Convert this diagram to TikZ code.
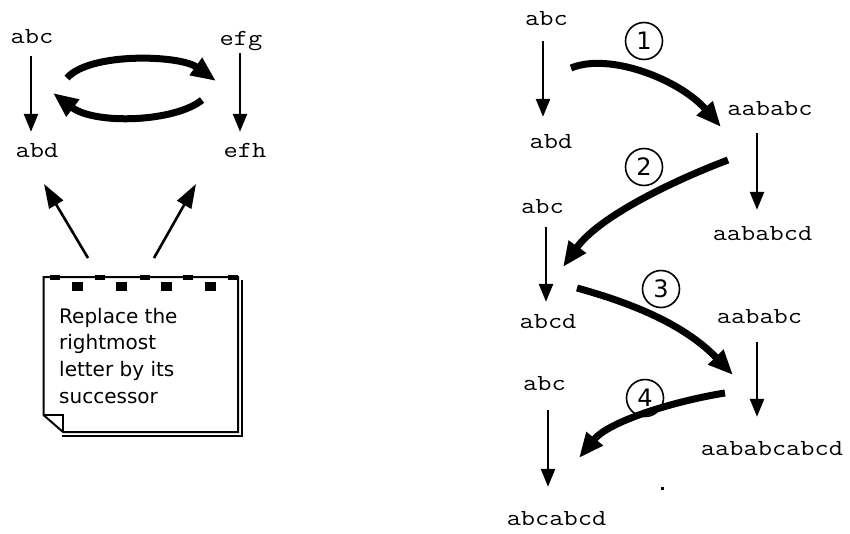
\documentclass[tikz,border=0pt]{standalone}
\usepackage{fontspec}
\setmainfont{DejaVu Sans}
\setmonofont{Latin Modern Mono}[FakeStretch=1.2]
\usetikzlibrary{arrows.meta}
\begin{document}
\begin{tikzpicture}[x=1pt,y=-1pt,
  word/.style={font=\ttfamily\fontsize{23}{27}\selectfont, inner sep=0pt, text height=15pt, text depth=5pt, anchor=base},
  thinarr/.style={line width=2.6pt, -{Triangle[length=18pt,width=14pt]}},
  diagarr/.style={line width=2.6pt, -{Triangle[length=24pt,width=16pt]}},
  bigarr/.style={line width=7pt, -{Triangle[length=25pt,width=20pt]}},
  numcirc/.style={circle, draw, line width=1.6pt, minimum size=37pt, inner sep=0pt, font=\fontsize{24}{24}\selectfont},
  notetext/.style={font=\fontsize{20}{27}\selectfont, inner sep=0pt, anchor=base west}]
\useasboundingbox (0,0) rectangle (850,533);

% ---------- left part ----------
\node[word] (abcL) at (32,43) {abc};
\node[word] (efg) at (241,45) {efg};
\node[word] (abdL) at (37,157) {abd};
\node[word] (efh) at (245,157) {efh};

\draw[thinarr, shorten <=8pt, shorten >=10pt] ([xshift=-1pt]abcL.south) -- ([xshift=-1pt]abcL.south |- abdL.north);
\draw[thinarr, shorten <=3pt, shorten >=10pt] ([xshift=-1pt]efg.south) -- ([xshift=-1pt]efg.south |- efh.north);

\coordinate (l1s) at (67,78);
\coordinate (l1e) at (216,81);
\coordinate (l2s) at (202,100);
\coordinate (l2e) at (53,93);
\draw[bigarr] (l1s) .. controls (90,52) and (180,55) .. (l1e);
\draw[bigarr] (l2s) .. controls (175,122) and (95,125) .. (l2e);

% note
\draw[line width=2pt] (63,432) -- (238,432) -- (238,277) -- (43.5,277) -- (43.5,415) -- cycle;
\draw[line width=1.8pt] (43.5,415) -- (63,415) -- (63,432);
\draw[line width=2.5pt] (242,280) -- (242,436) -- (62,436);
\foreach \x in {50,95,140,183,228} \fill (\x,275) rectangle ++(10,4.5);
\foreach \x in {72,116,161,205} \fill (\x,282) rectangle ++(11,9);

\node[notetext] (t1) at (59,323) {Replace the};
\node[notetext] (t2) at (59,349) {rightmost};
\node[notetext] (t3) at (59,376) {letter by its};
\node[notetext] (t4) at (59,403) {successor};

\coordinate (nl) at (88,258);
\coordinate (nlt) at (44,184);
\coordinate (nr) at (154,258);
\coordinate (nrt) at (196,184);
\draw[diagarr] (nl) -- (nlt);
\draw[diagarr] (nr) -- (nrt);

% ---------- right part ----------
\node[word] (abcA) at (546.5,25) {abc};
\node[word] (abdA) at (551,148) {abd};
\node[word] (aababcA) at (770,115) {aababc};
\node[word] (aababcd) at (762.5,240) {aababcd};
\node[word] (abcB) at (542.5,213) {abc};
\node[word] (abcd) at (548,328) {abcd};
\node[word] (aababcB) at (759.5,323) {aababc};
\node[word] (abcC) at (544.5,390) {abc};
\node[word] (aababcabcd) at (772,455) {aababcabcd};
\node[word] (abcabcd) at (556.5,525) {abcabcd};

\draw[thinarr, shorten <=11pt, shorten >=16pt] ([xshift=-3.5pt]abcA.south) -- ([xshift=-3.5pt]abcA.south |- abdA.north);
\draw[thinarr, shorten <=13pt, shorten >=15pt] ([xshift=-13pt]aababcA.south) -- ([xshift=-13pt]aababcA.south |- aababcd.north);
\draw[thinarr, shorten <=9pt, shorten >=11pt] ([xshift=3.5pt]abcB.south) -- ([xshift=3.5pt]abcB.south |- abcd.north);
\draw[thinarr, shorten <=14pt, shorten >=23pt] ([xshift=-2.5pt]aababcB.south) -- ([xshift=-2.5pt]aababcB.south |- aababcabcd.north);
\draw[thinarr, shorten <=15pt, shorten >=23pt] ([xshift=3.5pt]abcC.south) -- ([xshift=3.5pt]abcC.south |- abcabcd.north);

\coordinate (r1s) at (571,68);
\coordinate (r1e) at (721,127);
\coordinate (r2s) at (728,160);
\coordinate (r2e) at (563,267);
\coordinate (r3s) at (577,288);
\coordinate (r3e) at (733,375);
\coordinate (r4s) at (725,393);
\coordinate (r4e) at (579,458);
\draw[bigarr] (r1s) .. controls (610,52) and (680,80) .. (r1e);
\draw[bigarr] (r2s) .. controls (680,178) and (600,215) .. (r2e);
\draw[bigarr] (r3s) .. controls (620,300) and (680,320) .. (r3e);
\draw[bigarr] (r4s) .. controls (680,400) and (610,420) .. (r4e);

\node[numcirc] (n1) at (644,41) {1};
\node[numcirc] (n2) at (644,167) {2};
\node[numcirc] (n3) at (661,289) {3};
\node[numcirc] (n4) at (645,398) {4};

\fill (660.5,486.5) rectangle ++(3,3);
\end{tikzpicture}
\end{document}
